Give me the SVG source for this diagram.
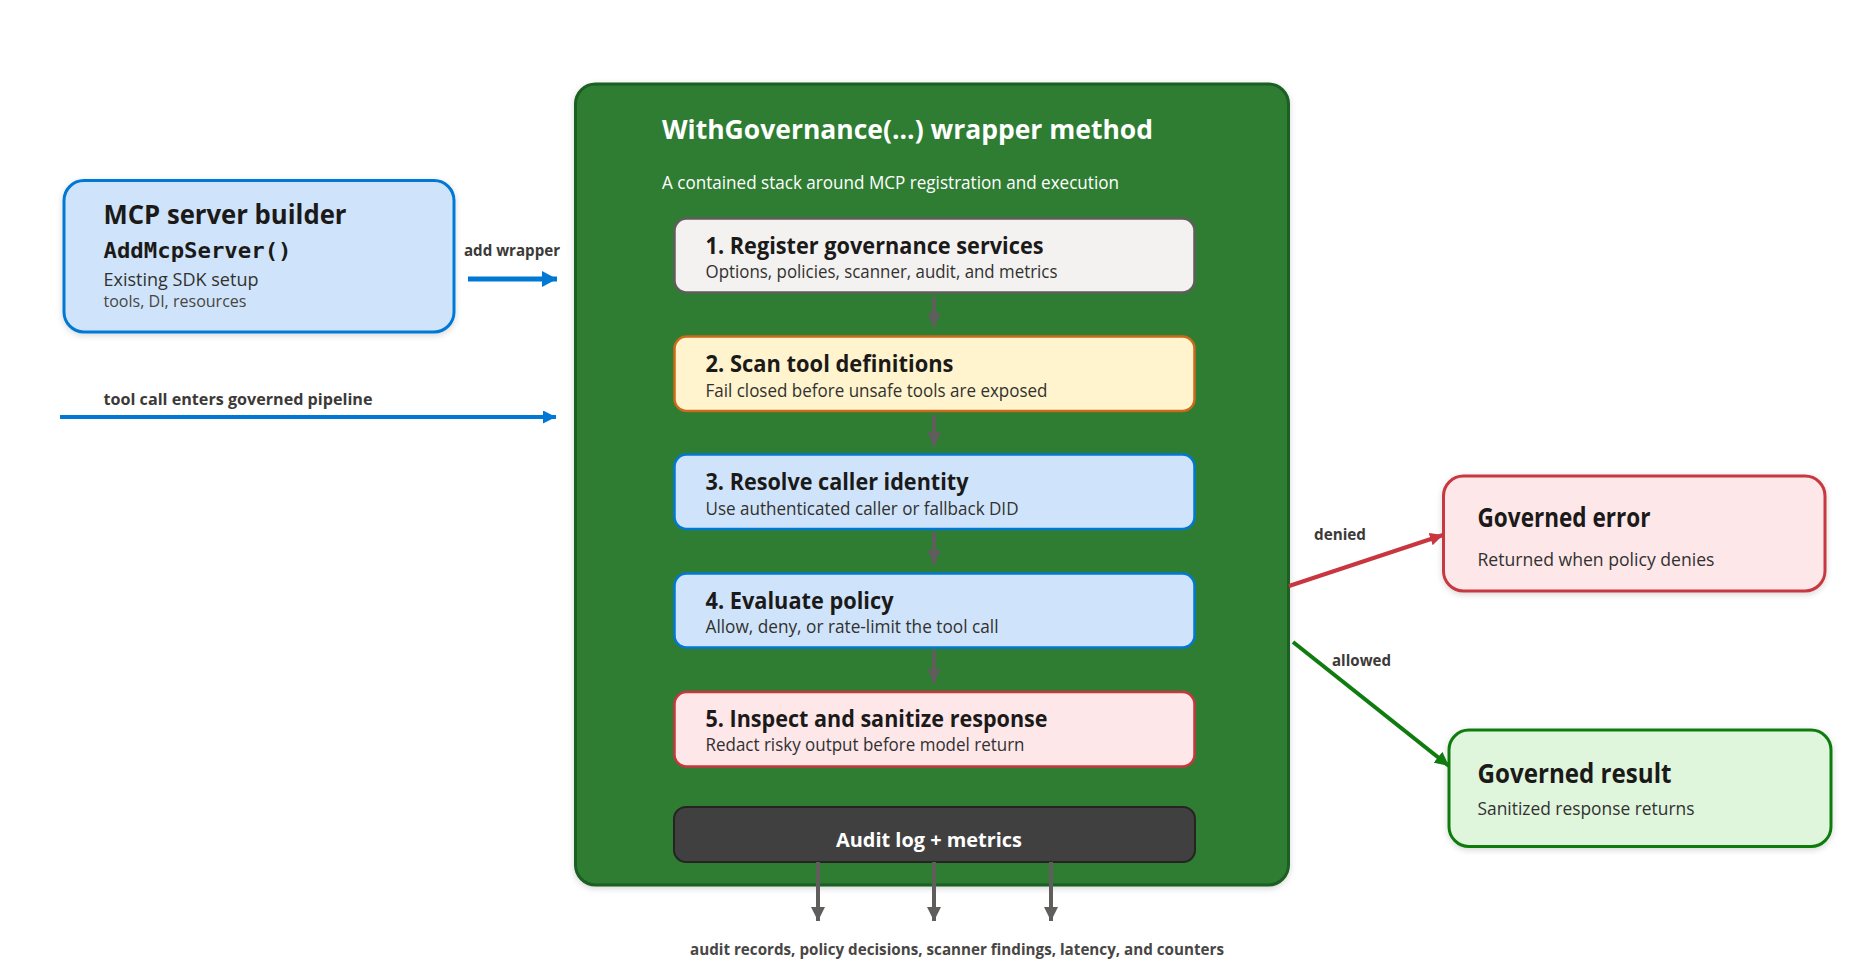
<svg xmlns="http://www.w3.org/2000/svg" width="1857" height="965" viewBox="0 0 1857 965">
<style>
text{font-family:"Open Sans","Noto Sans","Liberation Sans",sans-serif;fill:#1b1a19}
.nd{stroke-width:2.500}
.box{stroke-width:3}
.t1{font-size:26px;font-weight:700}
.st{font-size:23px;font-weight:700}
.sb{font-size:18px;fill:#323130}
.lb{font-size:16px;font-weight:700;fill:#3b3a39}
.blue{fill:#cfe4fa;stroke:#0078d4}
.pink{fill:#fde7e9;stroke:#c8373f}
.yel{fill:#fff4ce;stroke:#ca6a1a}
.gry{fill:#f3f2f1;stroke:#605e5c}
.grn{fill:#dff6dd;stroke:#107c10}
.g{stroke:#605e5c;stroke-width:4;fill:none}
</style>
<defs>
<filter id="sh" x="-5%" y="-5%" width="110%" height="112%"><feDropShadow dx="0" dy="2" stdDeviation="3" flood-color="#000" flood-opacity=".16"/></filter>
<marker id="mg" markerUnits="userSpaceOnUse" markerWidth="14" markerHeight="14" refX="14" refY="7" orient="auto"><path d="M0 0L14 7L0 14Z" fill="#605e5c"/></marker>
<marker id="mb" markerUnits="userSpaceOnUse" markerWidth="15" markerHeight="16" refX="15" refY="8" orient="auto"><path d="M0 0L15 8L0 16Z" fill="#0078d4"/></marker>
<marker id="mb2" markerUnits="userSpaceOnUse" markerWidth="13" markerHeight="13" refX="13" refY="6.500" orient="auto"><path d="M0 0L13 6.500L0 13Z" fill="#0078d4"/></marker>
<marker id="mr" markerUnits="userSpaceOnUse" markerWidth="13" markerHeight="13" refX="13" refY="6.500" orient="auto"><path d="M0 0L13 6.500L0 13Z" fill="#c8373f"/></marker>
<marker id="mv" markerUnits="userSpaceOnUse" markerWidth="14" markerHeight="14" refX="14" refY="7" orient="auto"><path d="M0 0L14 7L0 14Z" fill="#107c10"/></marker>
</defs>
<g id="wrapper"><rect x="575.500" y="84" width="713" height="801" rx="20" fill="#2e7d32" stroke="#1b5e20" stroke-width="3" filter="url(#sh)"/>
<text x="662" y="139" font-size="27" font-weight="700" style="fill:#fff" textLength="491" lengthAdjust="spacingAndGlyphs">WithGovernance(...) wrapper method</text>
<text x="662" y="189" font-size="18" style="fill:#fff" textLength="457" lengthAdjust="spacingAndGlyphs">A contained stack around MCP registration and execution</text></g>
<g id="builder"><rect class="box blue" x="64" y="180.500" width="390" height="151.500" rx="20" filter="url(#sh)"/>
<text class="t1" x="103.500" y="224" textLength="243" lengthAdjust="spacingAndGlyphs">MCP server builder</text>
<text x="103.500" y="258" font-size="22" font-weight="700" style="font-family:'DejaVu Sans Mono','Liberation Mono',monospace" textLength="188" lengthAdjust="spacingAndGlyphs">AddMcpServer()</text>
<text x="103.500" y="286" font-size="19" style="fill:#323130" textLength="155" lengthAdjust="spacingAndGlyphs">Existing SDK setup</text>
<text x="103.500" y="307" font-size="17" style="fill:#484644" textLength="143" lengthAdjust="spacingAndGlyphs">tools, DI, resources</text></g>
<g id="step1"><rect class="nd gry" x="674.500" y="218.500" width="520" height="74" rx="12"/>
<text class="st" x="705.500" y="254" textLength="338" lengthAdjust="spacingAndGlyphs">1. Register governance services</text>
<text class="sb" x="705.500" y="278" textLength="352" lengthAdjust="spacingAndGlyphs">Options, policies, scanner, audit, and metrics</text></g>
<g id="step2"><rect class="nd yel" x="674.500" y="336.500" width="520" height="74.500" rx="12"/>
<text class="st" x="705.500" y="372" textLength="248" lengthAdjust="spacingAndGlyphs">2. Scan tool definitions</text>
<text class="sb" x="705.500" y="396.500" textLength="342" lengthAdjust="spacingAndGlyphs">Fail closed before unsafe tools are exposed</text></g>
<g id="step3"><rect class="nd blue" x="674.500" y="454.500" width="520" height="74.500" rx="12"/>
<text class="st" x="705.500" y="490" textLength="263" lengthAdjust="spacingAndGlyphs">3. Resolve caller identity</text>
<text class="sb" x="705.500" y="514.500" textLength="313" lengthAdjust="spacingAndGlyphs">Use authenticated caller or fallback DID</text></g>
<g id="step4"><rect class="nd blue" x="674.500" y="573.500" width="520" height="74" rx="12"/>
<text class="st" x="705.500" y="609" textLength="188" lengthAdjust="spacingAndGlyphs">4. Evaluate policy</text>
<text class="sb" x="705.500" y="632.500" textLength="293" lengthAdjust="spacingAndGlyphs">Allow, deny, or rate-limit the tool call</text></g>
<g id="step5"><rect class="nd pink" x="674.500" y="692" width="520" height="74.500" rx="12"/>
<text class="st" x="705.500" y="727" textLength="342" lengthAdjust="spacingAndGlyphs">5. Inspect and sanitize response</text>
<text class="sb" x="705.500" y="751" textLength="319" lengthAdjust="spacingAndGlyphs">Redact risky output before model return</text></g>
<g id="audit"><rect x="674" y="807" width="521" height="55" rx="12" fill="#404040" stroke="#252423" stroke-width="2"/>
<text x="836" y="847" font-size="20" font-weight="700" style="fill:#fff" textLength="186" lengthAdjust="spacingAndGlyphs">Audit log + metrics</text></g>
<g id="error"><rect class="box pink" x="1443.500" y="476" width="381.500" height="115" rx="20" filter="url(#sh)"/>
<text class="t1" x="1477.500" y="527" font-size="24" textLength="173" lengthAdjust="spacingAndGlyphs">Governed error</text>
<text x="1477.500" y="566" font-size="19" style="fill:#323130" textLength="237" lengthAdjust="spacingAndGlyphs">Returned when policy denies</text></g>
<g id="result"><rect class="box grn" x="1449" y="730" width="382" height="116.500" rx="20" filter="url(#sh)"/>
<text class="t1" x="1477.500" y="783" textLength="194" lengthAdjust="spacingAndGlyphs">Governed result</text>
<text x="1477.500" y="815" font-size="19" style="fill:#323130" textLength="217" lengthAdjust="spacingAndGlyphs">Sanitized response returns</text></g>
<g id="connectors">
<path class="g" d="M934 297V327" marker-end="url(#mg)"/>
<path class="g" d="M934 415V446" marker-end="url(#mg)"/>
<path class="g" d="M934 532V564" marker-end="url(#mg)"/>
<path class="g" d="M934 650V683" marker-end="url(#mg)"/>
<path class="g" d="M818 862V921" marker-end="url(#mg)"/>
<path class="g" d="M934 862V921" marker-end="url(#mg)"/>
<path class="g" d="M1051 862V921" marker-end="url(#mg)"/>
<path d="M468 279H557" stroke="#0078d4" stroke-width="5" fill="none" marker-end="url(#mb)"/>
<path d="M60 417H556" stroke="#0078d4" stroke-width="4" fill="none" marker-end="url(#mb2)"/>
<path d="M1289 586L1443 535" stroke="#c8373f" stroke-width="4" fill="none" marker-end="url(#mr)"/>
<path d="M1293 642L1449 766" stroke="#107c10" stroke-width="4" fill="none" marker-end="url(#mv)"/>
<text class="lb" x="464" y="256" textLength="96" lengthAdjust="spacingAndGlyphs">add wrapper</text>
<text class="lb" x="103.500" y="405" textLength="269" lengthAdjust="spacingAndGlyphs">tool call enters governed pipeline</text>
<text class="lb" x="1314" y="539.500" textLength="52" lengthAdjust="spacingAndGlyphs">denied</text>
<text class="lb" x="1332" y="665.500" textLength="59" lengthAdjust="spacingAndGlyphs">allowed</text>
<text class="lb" x="690" y="955" style="fill:#484644" textLength="534" lengthAdjust="spacingAndGlyphs">audit records, policy decisions, scanner findings, latency, and counters</text>
</g>
</svg>
